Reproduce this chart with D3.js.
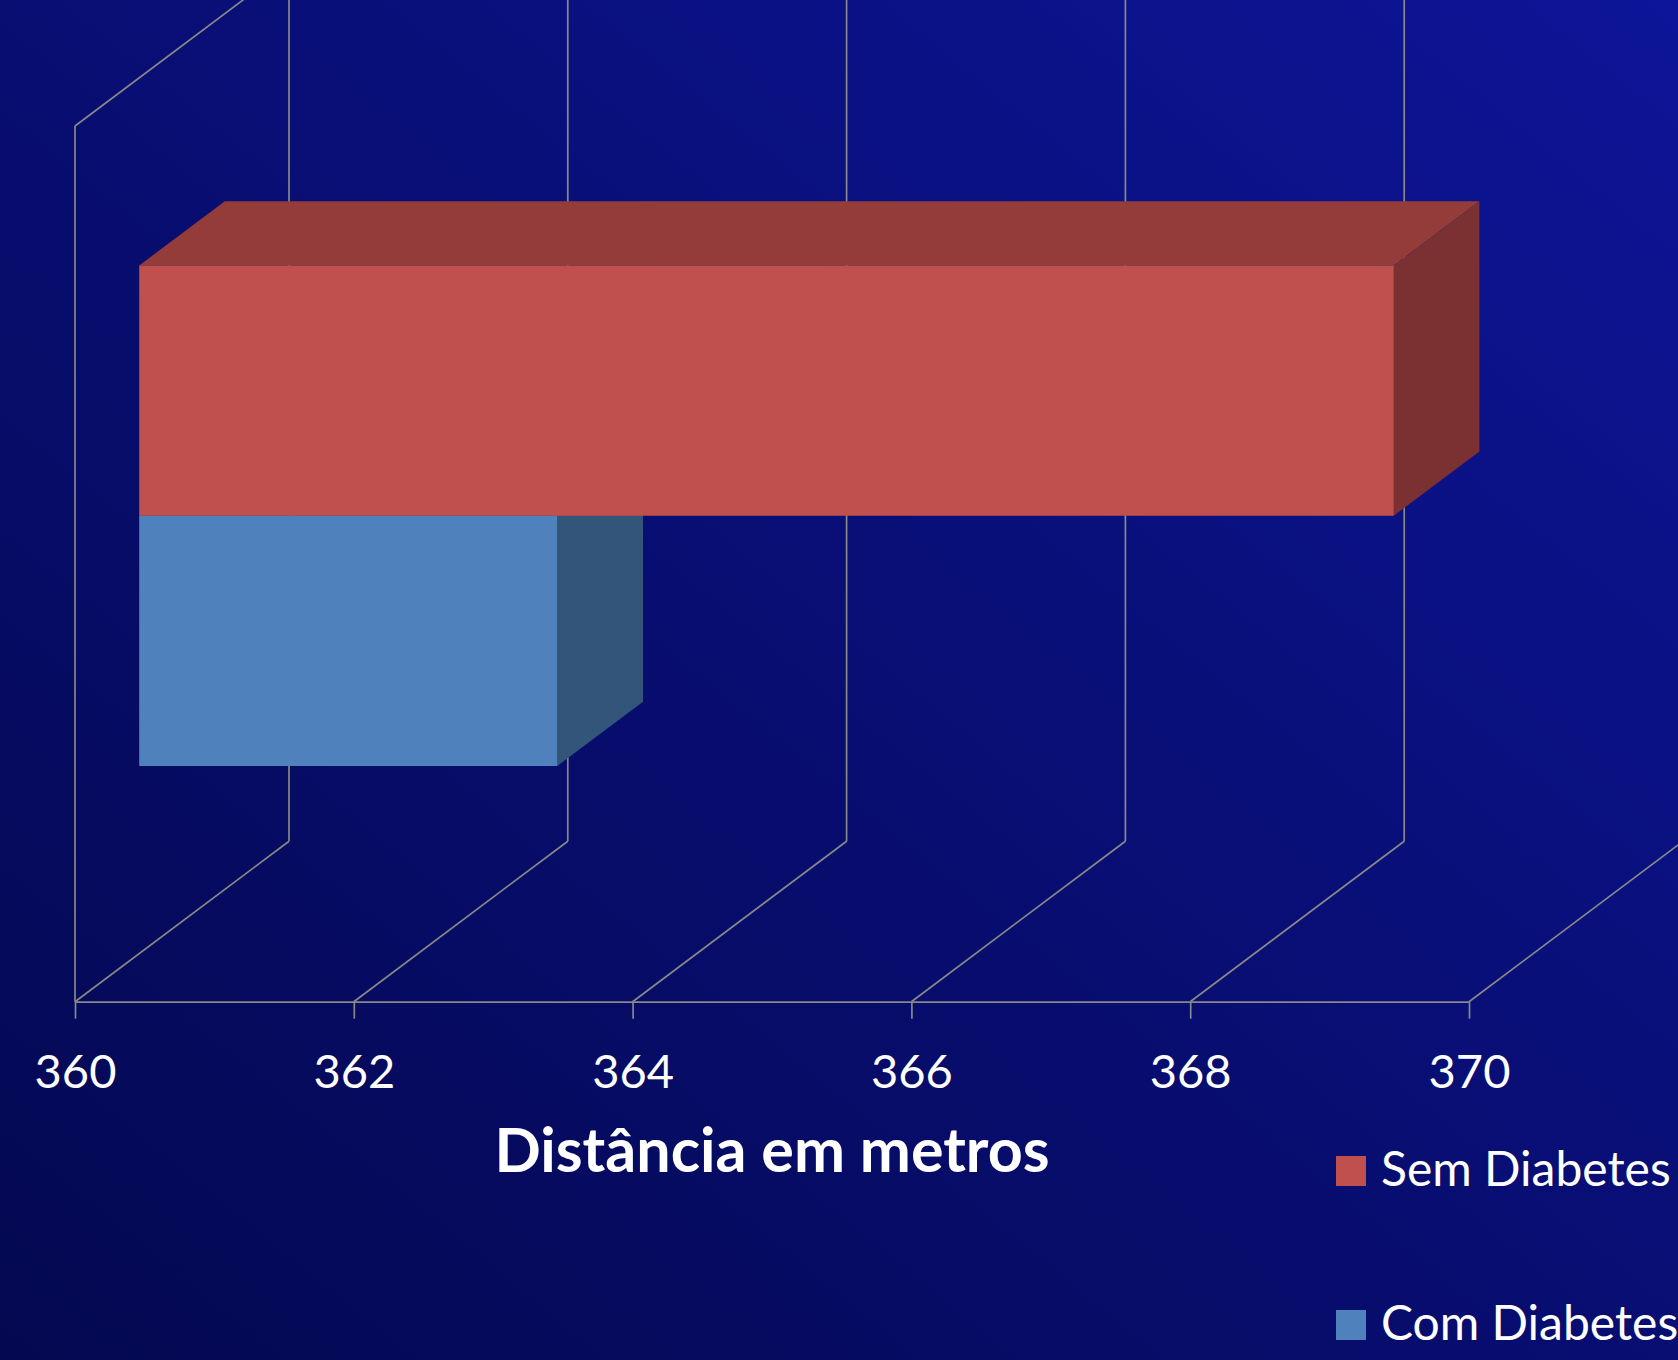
<!DOCTYPE html>
<html>
<head>
<meta charset="utf-8">
<script src="https://cdn.jsdelivr.net/npm/d3@7"></script>
<style>
  html, body { margin: 0; padding: 0; background: #070d6e; }
  svg { display: block; }
  text { font-family: Lato, "Open Sans", sans-serif; fill: #ffffff; }
</style>
</head>
<body>
<svg id="chart" width="1678" height="1360"></svg>
<script>
// ---- data ----
const categories = [""];
const series = ["Sem Diabetes", "Com Diabetes"];
const values = [369, 363];
const tickValues = [360, 362, 364, 366, 368, 370];
const axisTitle = "Distância em metros";

// ---- styles ----
const faceColors = {
  "Sem Diabetes": { front: "#c0504d", top: "#943c3a", side: "#7b3131" },
  "Com Diabetes": { front: "#4f81bd", top: "#3d6593", side: "#335579" }
};
const gridColor = "#888888";

// ---- layout ----
const W = 1678, H = 1360;
const X0 = 75, X1 = 1469, YT = 126, YB = 1001.7;
const DX = 214, DY = -160.5;     // 3-D depth offset
const D0 = 0.3, D1 = 0.7;        // bar depth range

const svg = d3.select("#chart");

// background gradient
const defs = svg.append("defs");
const grad = defs.append("linearGradient").attr("id", "bg")
  .attr("x1", 0).attr("y1", 1).attr("x2", 1).attr("y2", 0);
grad.append("stop").attr("offset", "0%").attr("stop-color", "#040850");
grad.append("stop").attr("offset", "50%").attr("stop-color", "#080e72");
grad.append("stop").attr("offset", "100%").attr("stop-color", "#0d1598");
svg.append("rect").attr("width", W).attr("height", H).attr("fill", "url(#bg)");

const x = d3.scaleLinear().domain([tickValues[0], tickValues[tickValues.length - 1]]).range([X0, X1]);
const y = d3.scaleBand().domain(categories).range([YT, YB]).paddingInner(0).paddingOuter(0.375);
const ys = d3.scaleBand().domain(series).range([0, y.bandwidth()]);

const proj = (v, yy, d) => [x(v) + DX * d, yy + DY * d];
const line = d3.line();

// ---- gridlines / walls ----
const grid = svg.append("g").attr("stroke", gridColor).attr("stroke-width", 1.7).attr("fill", "none");
tickValues.forEach(v => {
  grid.append("path").attr("d", line([proj(v, YT, 1), proj(v, YB, 1)]));   // back wall
  grid.append("path").attr("d", line([proj(v, YB, 0), proj(v, YB, 1)]));   // floor
});
const vmin = x.domain()[0];
grid.append("path").attr("d", line([proj(vmin, YT, 0), proj(vmin, YB, 0)]));
grid.append("path").attr("d", line([proj(vmin, YT, 0), proj(vmin, YT, 1)]));

// ---- axis ----
const axis = d3.axisBottom(x).tickValues(tickValues).tickSize(17).tickSizeOuter(0).tickFormat(d3.format("d"));
const ag = svg.append("g").attr("transform", `translate(0,${YB})`).call(axis);
ag.select(".domain").attr("stroke", gridColor).attr("stroke-width", 1.7);
ag.selectAll(".tick line").attr("stroke", gridColor).attr("stroke-width", 1.7);
ag.selectAll(".tick text")
  .attr("y", 86).attr("dy", 0)
  .style("font-family", "Lato, 'Open Sans', sans-serif")
  .style("font-size", "47px").attr("fill", "#ffffff");

// ---- bars (draw lower series first so upper one overlaps) ----
const bars = series.map((s, i) => ({ s, v: values[i], cat: categories[0] }));
bars.slice().reverse().forEach(b => {
  const ty = y(b.cat) + ys(b.s);
  const by = ty + ys.bandwidth();
  const c = faceColors[b.s];
  const g = svg.append("g");
  g.append("path").attr("fill", c.top)
    .attr("d", line([proj(vmin, ty, D0), proj(b.v, ty, D0), proj(b.v, ty, D1), proj(vmin, ty, D1)]) + "Z");
  g.append("path").attr("fill", c.side)
    .attr("d", line([proj(b.v, ty, D0), proj(b.v, ty, D1), proj(b.v, by, D1), proj(b.v, by, D0)]) + "Z");
  g.append("path").attr("fill", c.front)
    .attr("d", line([proj(vmin, ty, D0), proj(b.v, ty, D0), proj(b.v, by, D0), proj(vmin, by, D0)]) + "Z");
});

// ---- axis title ----
svg.append("text").attr("x", 772).attr("y", 1172).attr("text-anchor", "middle")
  .style("font-size", "61px").style("font-weight", "bold").text(axisTitle);

// ---- legend ----
const lg = svg.append("g").attr("transform", "translate(1336,1156)");
series.forEach((s, i) => {
  const row = lg.append("g").attr("transform", `translate(0,${i * 154})`);
  row.append("rect").attr("width", 30).attr("height", 30).attr("fill", faceColors[s].front);
  row.append("text").attr("x", 45).attr("y", 30).style("font-size", "48px").text(s);
});
</script>
</body>
</html>
